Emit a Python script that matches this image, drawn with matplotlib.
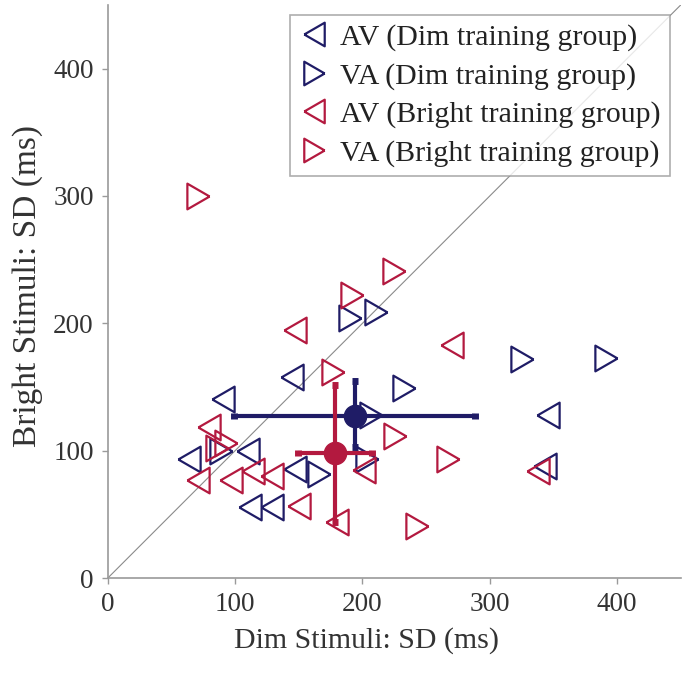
import matplotlib
matplotlib.use("Agg")
import matplotlib.pyplot as plt
import numpy as np

plt.rcParams['font.family'] = ['Liberation Serif', 'DejaVu Serif']

# Data (x = Dim stimuli SD, y = Bright stimuli SD), ms
dim_av_x = [91, 145, 64, 110, 112, 129, 147, 346, 343]
dim_av_y = [141, 158, 94, 100, 56, 56, 86, 128, 88]

dim_va_x = [190, 211, 89, 166, 233, 207, 204, 325, 391]
dim_va_y = [204, 209, 100, 82, 149, 128, 94, 172, 173]

bright_av_x = [147, 80, 71, 97, 114, 129, 150, 180, 201, 270, 338]
bright_av_y = [195, 119, 77, 77, 84, 80, 57, 44, 85, 183, 84]

bright_va_x = [71, 192, 225, 177, 93, 86, 226, 267, 243]
bright_va_y = [300, 222, 241, 162, 106, 102, 112, 94, 41]

# Group means and error bars
dim_mean = (194, 127)
dim_xerr = ([94.6], [94.4])
dim_yerr = ([24], [28])
bright_mean = (178.6, 98.2)
bright_xerr = ([29], [29])
bright_yerr = ([53.7], [53.6])

labels = ["AV (Dim training group)", "VA (Dim training group)",
          "AV (Bright training group)", "VA (Bright training group)"]

NAVY = '#1f1c66'
RED = '#b3193f'

h = np.sqrt(3) / 2
left_tri = [(-h, 0), (h, 1), (h, -1), (-h, 0)]
right_tri = [(h, 0), (-h, 1), (-h, -1), (h, 0)]

fig = plt.figure(figsize=(6.85, 6.86), dpi=100)
ax = fig.add_axes([0.157, 0.157, 0.837, 0.836])

lim = 450
ax.plot([0, lim], [0, lim], color='#8a8a8a', lw=0.8, zorder=1)

ms = 18.5
mew = 1.6
kw = dict(linestyle='none', markerfacecolor='none', markersize=ms, markeredgewidth=mew, zorder=3)
ax.plot(dim_av_x, dim_av_y, marker=left_tri, color=NAVY, label=labels[0], **kw)
ax.plot(dim_va_x, dim_va_y, marker=right_tri, color=NAVY, label=labels[1], **kw)
ax.plot(bright_av_x, bright_av_y, marker=left_tri, color=RED, label=labels[2], **kw)
ax.plot(bright_va_x, bright_va_y, marker=right_tri, color=RED, label=labels[3], **kw)

ax.errorbar([dim_mean[0]], [dim_mean[1]], xerr=np.array(dim_xerr), yerr=np.array(dim_yerr),
            fmt='o', color=NAVY, ms=16, elinewidth=3, capsize=2.5, capthick=5, zorder=4)
ax.errorbar([bright_mean[0]], [bright_mean[1]], xerr=np.array(bright_xerr), yerr=np.array(bright_yerr),
            fmt='o', color=RED, ms=16, elinewidth=3, capsize=2.5, capthick=5, zorder=5)

ax.set_xlim(0, lim)
ax.set_ylim(0, lim)
ax.set_xticks([0, 100, 200, 300, 400])
ax.set_yticks([0, 100, 200, 300, 400])

for s in ['top', 'right']:
    ax.spines[s].set_visible(False)
for s in ['left', 'bottom']:
    ax.spines[s].set_color('#9a9a9a')
    ax.spines[s].set_linewidth(1.2)
ax.tick_params(axis='both', direction='out', length=4, width=1.0, color='#9a9a9a',
               labelsize=19.5, labelcolor='#333333', pad=6)

ax.set_xlabel("Dim Stimuli: SD (ms)", fontsize=21.5, color='#333333', labelpad=6)
ax.set_ylabel("Bright Stimuli: SD (ms)", fontsize=24, color='#333333', labelpad=6)
ax.xaxis.set_label_coords(0.451, -0.085)
ax.yaxis.set_label_coords(-0.112, 0.51)

handles = [
    plt.Line2D([], [], linestyle='none', marker=left_tri, markerfacecolor='none',
               markeredgecolor=NAVY, markersize=17, markeredgewidth=1.6),
    plt.Line2D([], [], linestyle='none', marker=right_tri, markerfacecolor='none',
               markeredgecolor=NAVY, markersize=17, markeredgewidth=1.6),
    plt.Line2D([], [], linestyle='none', marker=left_tri, markerfacecolor='none',
               markeredgecolor=RED, markersize=17, markeredgewidth=1.6),
    plt.Line2D([], [], linestyle='none', marker=right_tri, markerfacecolor='none',
               markeredgecolor=RED, markersize=17, markeredgewidth=1.6),
]
leg = ax.legend(handles, labels, loc='upper right', bbox_to_anchor=(0.981, 0.9825),
                fontsize=21.5, frameon=True, fancybox=False, edgecolor='#9a9a9a',
                handlelength=1.0, handletextpad=0.4, labelspacing=0.38,
                borderpad=0.3, borderaxespad=0.0)
leg.get_frame().set_linewidth(1.2)
for t in leg.get_texts():
    t.set_color('#222222')

fig.savefig("out.png", dpi=100)
